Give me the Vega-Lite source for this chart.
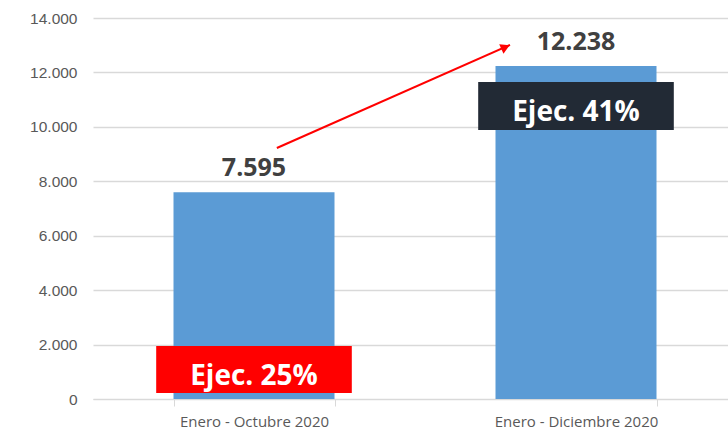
{
  "$schema": "https://vega.github.io/schema/vega-lite/v6.json",
  "autosize": "none",
  "width": 635,
  "height": 381,
  "padding": {"left": 93, "top": 18, "right": 0, "bottom": 31},
  "background": "white",
  "config": {
    "view": {"stroke": null},
    "locale": {"number": {"decimal": ",", "thousands": ".", "grouping": [3], "currency": ["", " €"]}}
  },
  "datasets": {
    "barras": [
      {"periodo": "Enero - Octubre 2020", "valor": 7595, "ejec": "Ejec. 25%", "caja_min": 220, "caja_max": 1950, "texto_y": 515},
      {"periodo": "Enero - Diciembre 2020", "valor": 12238, "ejec": "Ejec. 41%", "caja_min": 9886, "caja_max": 11650, "texto_y": 10217}
    ],
    "flecha": [
      {"x0": 0.571, "y0": 9224, "x1": 1.295, "y1": 13010, "xp": 1.281, "yp": 12930}
    ]
  },
  "layer": [
    {
      "data": {"name": "barras"},
      "encoding": {
        "x": {
          "field": "periodo", "type": "nominal", "sort": null,
          "scale": {"range": [0, 644], "paddingInner": 0.5, "paddingOuter": 0.25},
          "axis": {
            "title": null, "labelAngle": 0, "tickBand": "extent",
            "labelFont": "Open Sans", "labelFontSize": 15, "labelColor": "#595959",
            "domainColor": "#D9D9D9", "tickColor": "#D9D9D9", "tickSize": 7, "labelPadding": 8
          }
        }
      },
      "layer": [
        {
          "mark": {"type": "bar", "color": "#5B9BD5"},
          "encoding": {
            "y": {
              "field": "valor", "type": "quantitative",
              "scale": {"domain": [0, 14000], "nice": false},
              "axis": {
                "title": null, "values": [0, 2000, 4000, 6000, 8000, 10000, 12000, 14000],
                "format": ",.0f",
                "domain": false, "ticks": false, "gridColor": "#D9D9D9", "gridWidth": 1.3,
                "labelFont": "Liberation Sans", "labelFontSize": 15.5, "labelColor": "#595959", "labelPadding": 16
              }
            }
          }
        },
        {
          "mark": {"type": "bar", "width": {"band": 1.215}},
          "encoding": {
            "y": {"field": "caja_min", "type": "quantitative"},
            "y2": {"field": "caja_max"},
            "color": {"field": "ejec", "type": "nominal", "legend": null,
              "scale": {"domain": ["Ejec. 25%", "Ejec. 41%"], "range": ["#FF0000", "#222A35"]}}
          }
        },
        {
          "mark": {"type": "text", "font": "Open Sans", "fontWeight": "bold", "fontSize": 28, "color": "white", "baseline": "alphabetic", "align": "center"},
          "encoding": {
            "y": {"field": "texto_y", "type": "quantitative"},
            "text": {"field": "ejec"}
          }
        },
        {
          "mark": {"type": "text", "font": "Open Sans", "fontWeight": "bold", "fontSize": 25, "color": "#404040", "baseline": "alphabetic", "align": "center", "dy": -16},
          "encoding": {
            "y": {"field": "valor", "type": "quantitative"},
            "text": {"field": "valor", "type": "quantitative", "format": ",.0f"}
          }
        }
      ]
    },
    {
      "data": {"name": "flecha"},
      "layer": [
        {
          "mark": {"type": "rule", "color": "#FF0000", "strokeWidth": 2},
          "encoding": {
            "x": {"field": "x0", "type": "quantitative", "scale": {"domain": [0, 2], "range": [0, 644]}, "axis": null},
            "y": {"field": "y0", "type": "quantitative"},
            "x2": {"field": "x1"},
            "y2": {"field": "y1"}
          }
        },
        {
          "mark": {"type": "point", "shape": "triangle-up", "filled": true, "color": "#FF0000", "opacity": 1, "size": 110, "angle": 66},
          "encoding": {
            "x": {"field": "xp", "type": "quantitative", "scale": {"domain": [0, 2], "range": [0, 644]}, "axis": null},
            "y": {"field": "yp", "type": "quantitative"}
          }
        }
      ]
    }
  ],
  "resolve": {"scale": {"x": "independent"}, "axis": {"x": "independent"}}
}
